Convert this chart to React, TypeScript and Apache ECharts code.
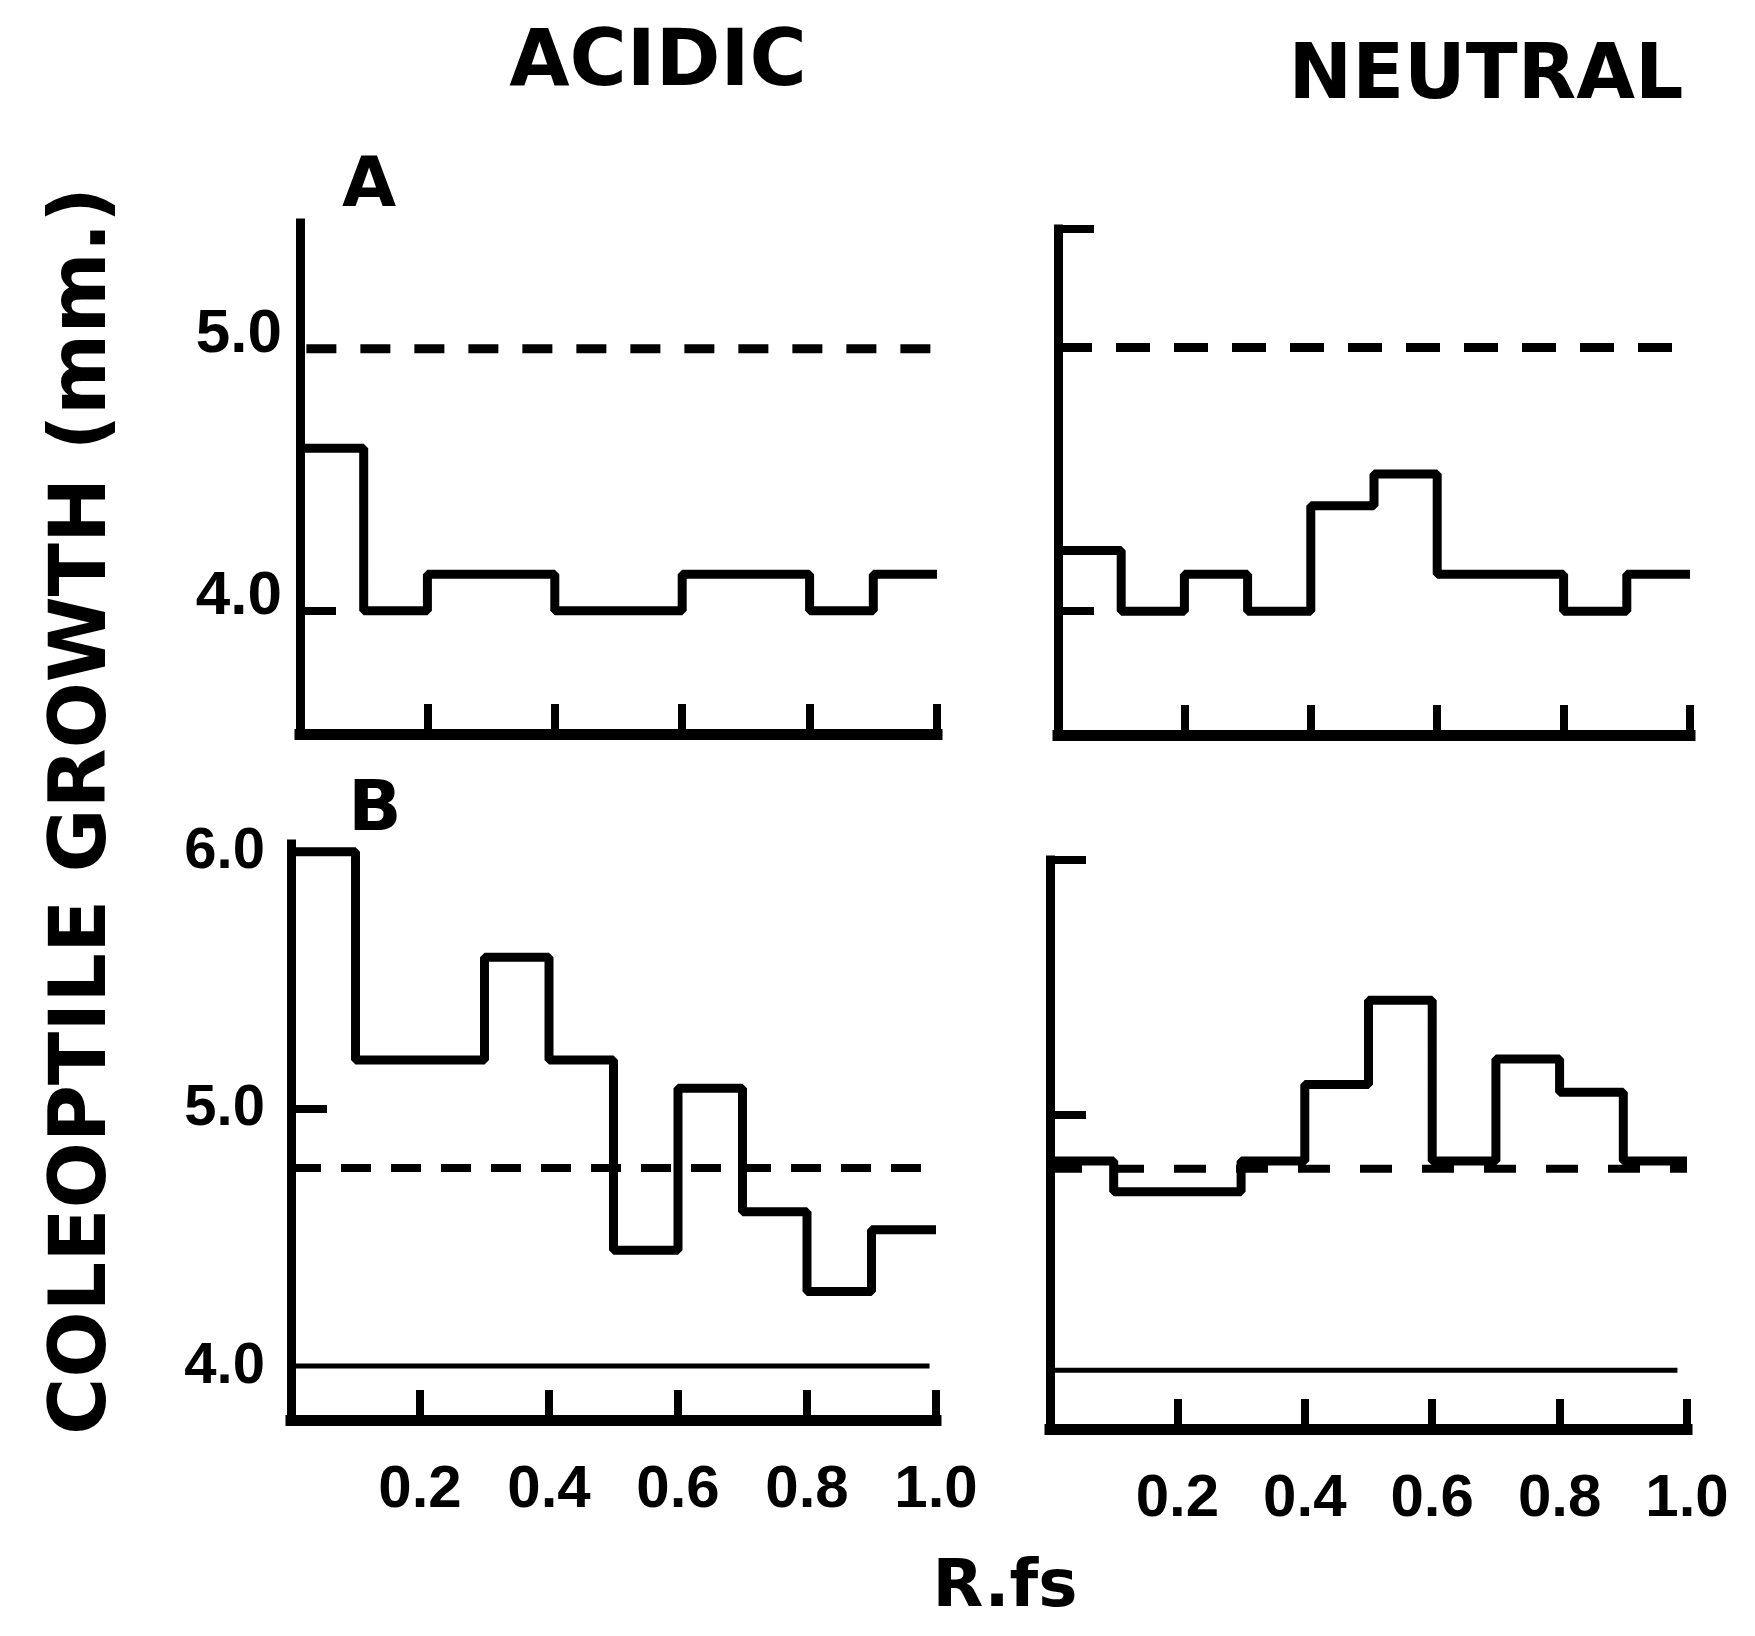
import React, { useEffect, useRef } from "react";
import * as echarts from "echarts";

// Rf bin edges (0.1 wide bins)
const binEdges = [0, 0.1, 0.2, 0.3, 0.4, 0.5, 0.6, 0.7, 0.8, 0.9, 1.0];

// Coleoptile growth (mm) per Rf bin
const acidicA = [4.62, 4.0, 4.14, 4.14, 4.0, 4.0, 4.14, 4.14, 4.0, 4.14];
const neutralA = [4.23, 4.0, 4.14, 4.0, 4.4, 4.52, 4.14, 4.14, 4.0, 4.14];
const acidicB = [6.0, 5.19, 5.19, 5.59, 5.19, 4.45, 5.08, 4.6, 4.29, 4.53];
const neutralB = [4.82, 4.7, 4.7, 4.82, 5.12, 5.45, 4.82, 5.22, 5.09, 4.82];

// Control (dashed) levels
const controlAcidicA = 5.0;
const controlNeutralA = 5.0;
const controlAcidicB = 4.77;
const controlNeutralB = 4.79;
// Solid reference line in B
const baseLineB = 4.0;

// Tick / label values
const xTickValues = [0.2, 0.4, 0.6, 0.8, 1.0];
const yLabelsA = [4.0, 5.0];
const yLabelsB = [4.0, 5.0, 6.0];
const yTicksAcidicA = [4.0];
const yTicksNeutralA = [4.0, 5.45];
const yTicksAcidicB = [5.0];
const yTicksNeutralB = [5.0, 6.0];

const titles = { acidic: "ACIDIC", neutral: "NEUTRAL", a: "A", b: "B", x: "R.fs", y: "COLEOPTILE GROWTH (mm.)" };

const BLACK = "#000";
const NUM_FONT = "Liberation Sans";
const HEAD_FONT = "DejaVu Sans";

function stepData(vals: number[]) {
  return binEdges.map((x, i) => [x, vals[Math.min(i, vals.length - 1)]]);
}

function makeX(i: number, showLabels: boolean) {
  return {
    type: "value",
    gridIndex: i,
    min: 0,
    max: 1,
    axisLine: { show: true, onZero: false, lineStyle: { color: BLACK, width: 11, cap: "square" } },
    axisTick: { show: true, inside: true, length: 30, customValues: xTickValues, lineStyle: { color: BLACK, width: 8 } },
    axisLabel: {
      show: showLabels,
      customValues: xTickValues,
      formatter: (v: number) => v.toFixed(1),
      margin: 36,
      fontSize: 60,
      fontWeight: "bold",
      fontFamily: NUM_FONT,
      color: BLACK,
    },
    splitLine: { show: false },
  };
}

function makeY(i: number, min: number, max: number, ticks: number[], labels: number[] | null, margin: number, fontSize: number, padBottom: number) {
  return {
    type: "value",
    gridIndex: i,
    min,
    max,
    axisLine: { show: true, onZero: false, lineStyle: { color: BLACK, width: 9, cap: "square" } },
    axisTick: { show: true, inside: true, length: 36, customValues: ticks, lineStyle: { color: BLACK, width: 8 } },
    axisLabel: {
      show: !!labels,
      customValues: labels || [],
      formatter: (v: number) => `{n|${v.toFixed(1)}}`,
      margin,
      verticalAlign: "middle",
      rich: {
        n: {
          fontSize,
          fontWeight: "bold",
          fontFamily: NUM_FONT,
          color: BLACK,
          padding: [0, 0, padBottom, 0],
        },
      },
    },
    splitLine: { show: false },
  };
}

function stepSeries(i: number, vals: number[]) {
  return {
    type: "line",
    xAxisIndex: i,
    yAxisIndex: i,
    step: "end",
    symbol: "none",
    data: stepData(vals),
    lineStyle: { color: BLACK, width: 9 },
    z: 3,
  };
}

function hLine(i: number, y: number, x0: number, x1: number, width: number, dash: number[] | null) {
  return {
    type: "line",
    xAxisIndex: i,
    yAxisIndex: i,
    symbol: "none",
    clip: false,
    data: [[x0, y], [x1, y]],
    lineStyle: { color: BLACK, width, type: dash ? dash : "solid" },
    z: 2,
  };
}

export default function App() {
  const ref = useRef<HTMLDivElement>(null);
  useEffect(() => {
    if (!ref.current) return;
    const chart = echarts.init(ref.current, null, { renderer: "svg" });
    const headText = (text: string, x: number, y: number, size: number, rotation = 0) => ({
      type: "text",
      x,
      y,
      rotation,
      style: {
        text,
        fontSize: size,
        fontWeight: "bold",
        fontFamily: HEAD_FONT,
        fill: BLACK,
        align: "center",
        verticalAlign: "middle",
      },
    });
    chart.setOption({
      animation: false,
      backgroundColor: "#fff",
      grid: [
        { left: 300, top: 223, width: 637, height: 511, outerBoundsMode: "none" },
        { left: 1058, top: 229, width: 632, height: 506, outerBoundsMode: "none" },
        { left: 291, top: 844, width: 645, height: 576, outerBoundsMode: "none" },
        { left: 1050, top: 860, width: 637, height: 569, outerBoundsMode: "none" },
      ],
      xAxis: [makeX(0, false), makeX(1, false), makeX(2, true), makeX(3, true)],
      yAxis: [
        makeY(0, 3.53, 5.48, yTicksAcidicA, yLabelsA, 18, 62, 36),
        makeY(1, 3.53, 5.45, yTicksNeutralA, null, 18, 62, 0),
        makeY(2, 3.79, 6.03, yTicksAcidicB, yLabelsB, 26, 58, 8),
        makeY(3, 3.77, 6.0, yTicksNeutralB, null, 26, 58, 0),
      ],
      series: [
        stepSeries(0, acidicA),
        stepSeries(1, neutralA),
        stepSeries(2, acidicB),
        stepSeries(3, neutralB),
        hLine(0, controlAcidicA, 0.01, 1.0, 9, [30, 24]),
        hLine(1, controlNeutralA, 0.0, 0.98, 9, [34, 24]),
        hLine(2, controlAcidicB, 0.0, 1.05, 8, [30, 20]),
        hLine(3, controlNeutralB, 0.0, 1.0, 8, [32, 30]),
        hLine(2, baseLineB, 0.0, 0.99, 5, null),
        hLine(3, baseLineB, 0.0, 0.985, 5, null),
      ],
      graphic: [
        headText(titles.acidic, 658, 58, 78),
        headText(titles.neutral, 1486, 71, 76),
        headText(titles.a, 369, 182, 70),
        headText(titles.b, 375, 806, 70),
        headText(titles.x, 1005, 1583, 66),
        headText(titles.y, 78, 811, 78, Math.PI / 2),
      ],
    });
    return () => chart.dispose();
  }, []);
  return (
    <div
      ref={ref}
      style={{ position: "fixed", left: 0, top: 0, width: 1755, height: 1636, background: "#fff" }}
    />
  );
}
